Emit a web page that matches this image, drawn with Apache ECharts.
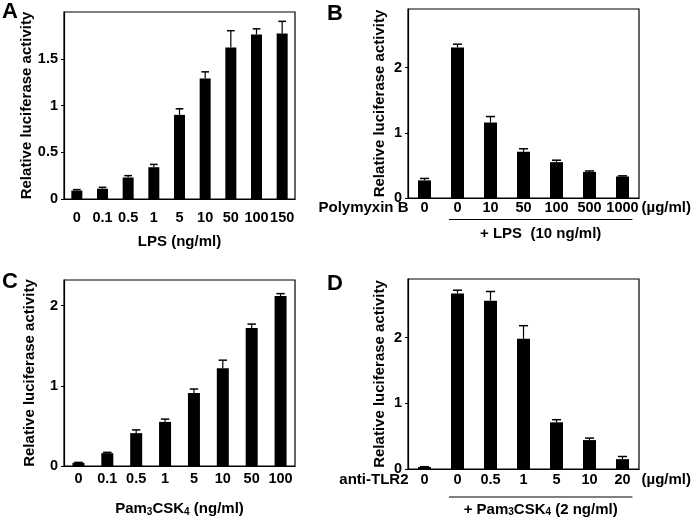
<!DOCTYPE html>
<html><head><meta charset="utf-8">
<script src="https://cdn.jsdelivr.net/npm/echarts@6/dist/echarts.min.js"></script>
<style>html,body{margin:0;padding:0;background:#fff}#c{width:700px;height:522px}</style>
</head><body><div id="c"></div>
<script>
// Panel A: LPS dose
const catA = ['0','0.1','0.5','1','5','10','50','100','150'];
const valA = [0.09,0.11,0.23,0.34,0.90,1.29,1.62,1.76,1.77];
const errA = [0.01,0.015,0.02,0.03,0.065,0.07,0.18,0.06,0.13];
// Panel B: Polymyxin B + LPS
const catB = ['0','0','10','50','100','500','1000'];
const valB = [0.27,2.31,1.16,0.71,0.55,0.40,0.33];
const errB = [0.03,0.05,0.09,0.045,0.03,0.015,0.01];
// Panel C: Pam3CSK4 dose
const catC = ['0','0.1','0.5','1','5','10','50','100'];
const valC = [0.04,0.16,0.41,0.55,0.91,1.22,1.72,2.12];
const errC = [0.005,0.01,0.04,0.035,0.05,0.1,0.05,0.03];
// Panel D: anti-TLR2 + Pam3CSK4
const catD = ['0','0','0.5','1','5','10','20'];
const valD = [0.03,2.67,2.56,1.98,0.71,0.44,0.15];
const errD = [0.005,0.05,0.14,0.2,0.04,0.03,0.04];

const FONT = '"Liberation Sans", Arial, Helvetica, sans-serif';
const chart = echarts.init(document.getElementById('c'), null, {renderer:'canvas'});

const grids = [
  {left:64, top:12, width:231, height:187},
  {left:408, top:9, width:231, height:189},
  {left:64, top:280, width:231, height:186},
  {left:408, top:279, width:231, height:190}
];
const cats = [catA, catB, catC, catD];
const vals = [valA, valB, valC, valD];
const errs = [errA, errB, errC, errD];
const ymax = [2.0, 2.9, 2.32, 2.89];
const yint = [0.5, 1, 1, 1];
const barW = [11, 13, 12, 13];
const lblMargin = [11, 2, 5, 3];
const xNames = ['LPS (ng/ml)', '', '{n|Pam}{s|3}{n|CSK}{s|4}{n| (ng/ml)}', ''];
const rich = {
  n: {fontFamily: FONT, fontWeight:'bold', fontSize:15, color:'#000', lineHeight:16},
  s: {fontFamily: FONT, fontWeight:'bold', fontSize:10, color:'#000', verticalAlign:'bottom', lineHeight:9}
};

const xAxis = [], yAxis = [], series = [];
for (let g = 0; g < 4; g++) {
  xAxis.push({
    type:'category', gridIndex:g, data:cats[g],
    axisLine:{lineStyle:{color:'#000', width:1.2}},
    axisTick:{show:false},
    axisLabel:{color:'#000', fontFamily:FONT, fontWeight:'bold', fontSize:14.5, margin:lblMargin[g], interval:0},
    name:xNames[g], nameLocation:'middle', nameGap:35,
    nameTextStyle:{color:'#000', fontFamily:FONT, fontWeight:'bold', fontSize:15, rich:rich}
  });
  yAxis.push({
    type:'value', gridIndex:g, min:0, max:ymax[g], interval:yint[g],
    splitLine:{show:false},
    axisLine:{show:true, lineStyle:{color:'#000', width:1.2}},
    axisTick:{show:true, inside:false, length:3, lineStyle:{color:'#000'}},
    axisLabel:{color:'#000', fontFamily:FONT, fontWeight:'bold', fontSize:14.5, margin:6, showMaxLabel:false},
    name:'Relative luciferase activity', nameLocation:'middle', nameGap: g%2===0 ? 27 : 21,
    nameTextStyle:{color:'#000', fontFamily:FONT, fontWeight:'bold', fontSize:15}
  });
  series.push({
    type:'bar', xAxisIndex:g, yAxisIndex:g, data:vals[g], barWidth:barW[g],
    itemStyle:{color:'#000'}, silent:true, animation:false
  });
  const cw = barW[g]*0.7;
  series.push({
    type:'custom', xAxisIndex:g, yAxisIndex:g, animation:false, silent:true, z:3,
    data: vals[g].map((v,i)=>[i, v, errs[g][i]]),
    encode:{x:0, y:1},
    renderItem:function(params, api){
      const i = api.value(0), v = api.value(1), e = api.value(2);
      const p0 = api.coord([i, v]);
      const p1 = api.coord([i, v + e]);
      return {type:'group', children:[
        {type:'line', shape:{x1:p0[0], y1:p0[1], x2:p1[0], y2:p1[1]}, style:{stroke:'#000', lineWidth:1.2}},
        {type:'line', shape:{x1:p1[0]-cw/2, y1:p1[1], x2:p1[0]+cw/2, y2:p1[1]}, style:{stroke:'#000', lineWidth:1.5}}
      ]};
    }
  });
}

const gridOpts = grids.map(g => Object.assign({show:true, borderColor:'#000', borderWidth:1.2, backgroundColor:'transparent'}, g));

chart.setOption({
  animation:false,
  grid:gridOpts, xAxis:xAxis, yAxis:yAxis, series:series
});

// annotations positioned from the axes
function px(g, i){ return chart.convertToPixel({xAxisIndex:g, yAxisIndex:g}, [i, 0]); }
const txtBold = (text, x, y, size, align) => ({
  type:'text', x:x, y:y,
  style:{text:text, fill:'#000', font:'bold '+size+'px '+FONT, textAlign:align||'center', textVerticalAlign:'middle', rich:rich}
});
const graphics = [];
// panel letters
graphics.push({type:'text', left:2, top:1, style:{text:'A', fill:'#000', font:'bold 22px '+FONT}});
graphics.push({type:'text', left:327, top:3, style:{text:'B', fill:'#000', font:'bold 22px '+FONT}});
graphics.push({type:'text', left:2, top:271, style:{text:'C', fill:'#000', font:'bold 22px '+FONT}});
graphics.push({type:'text', left:327, top:273, style:{text:'D', fill:'#000', font:'bold 22px '+FONT}});

// [grid, leading label, condition text, label offset, line offset, condition offset]
[[1,'Polymyxin B','+ LPS  (10 ng/ml)', 9.5, 21.5, 35.5],
 [3,'anti-TLR2','{n|+ Pam}{s|3}{n|CSK}{s|4}{n| (2 ng/ml)}', 11, 28, 40.5]].forEach(([g, lead, cond, lo, lno, co])=>{
  const n = cats[g].length;
  const first = px(g, 0), c1 = px(g, 1), cl = px(g, n-1);
  const step = c1[0] - first[0];
  graphics.push(txtBold(lead, first[0] - 16, first[1] + lo, 15, 'right'));
  graphics.push(txtBold('(\u00b5g/ml)', cl[0] + 19, first[1] + lo, 15, 'left'));
  const x1 = c1[0] - step*0.26, x2 = cl[0] + step*0.3;
  const lineY = first[1] + lno;
  graphics.push({type:'line', shape:{x1:x1, y1:lineY, x2:x2, y2:lineY}, style:{stroke:'#000', lineWidth:1.2}});
  graphics.push({type:'text', x:(x1+x2)/2, y:first[1] + co,
    style:{text:cond, fill:'#000', font:'bold 15px '+FONT, textAlign:'center', textVerticalAlign:'middle', rich:rich}});
});
chart.setOption({graphic:graphics});
</script>
</body></html>
